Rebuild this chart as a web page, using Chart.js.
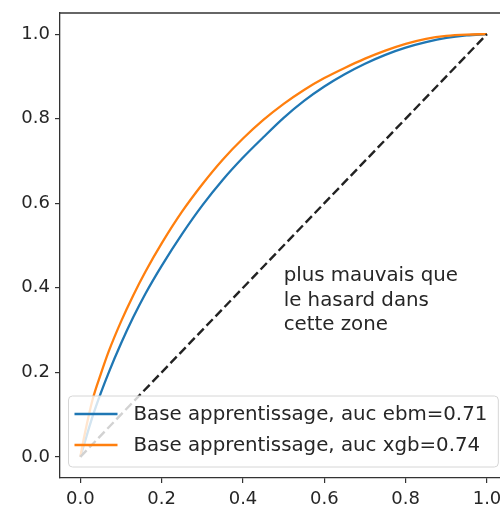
<!DOCTYPE html>
<html>
<head>
<meta charset="utf-8">
<script src="https://cdn.jsdelivr.net/npm/chart.js@4/dist/chart.umd.min.js"></script>
<style>
  html, body { margin: 0; padding: 0; background: #fff; overflow: hidden; }
  #wrap { width: 500px; height: 513px; }
</style>
</head>
<body>
<div id="wrap"><canvas id="roc" width="500" height="513"></canvas></div>
<script>
// taux de faux positifs (axe x)
const fpr = [0, 0.01, 0.03, 0.05, 0.07, 0.1, 0.13, 0.16, 0.2, 0.25, 0.3, 0.35, 0.4, 0.45, 0.5, 0.55, 0.6, 0.65, 0.7, 0.75, 0.8, 0.85, 0.9, 0.95, 1.0];
// taux de vrais positifs
const tprEbm = [0, 0.032, 0.095, 0.15, 0.2, 0.268, 0.33, 0.386, 0.452, 0.527, 0.595, 0.655, 0.708, 0.756, 0.802, 0.842, 0.876, 0.905, 0.93, 0.951, 0.968, 0.981, 0.991, 0.997, 1.0];
const tprXgb = [0, 0.05, 0.135, 0.195, 0.25, 0.32, 0.382, 0.438, 0.505, 0.58, 0.645, 0.703, 0.753, 0.797, 0.835, 0.868, 0.896, 0.92, 0.942, 0.961, 0.977, 0.989, 0.996, 0.999, 1.0];
const diagX = [0, 1];
const diagY = [0, 1];

const labels = ['Base apprentissage, auc ebm=0.71', 'Base apprentissage, auc xgb=0.74'];
const tickValues = [0, 0.2, 0.4, 0.6, 0.8, 1.0];
const noteLines = ['plus mauvais que', 'le hasard dans', 'cette zone'];

const toPoints = (xs, ys) => xs.map((x, i) => ({ x: x, y: ys[i] }));

const FONT = 'DejaVu Sans';
const TXT = '#262626';

// cadre, annotation et legende
const extras = {
    id: 'extras',
    afterDraw(chart) {
        const ctx = chart.ctx;
        const a = chart.chartArea;
        const xs = chart.scales.x, ys = chart.scales.y;
        ctx.save();

        // spine du haut
        ctx.strokeStyle = '#333';
        ctx.lineWidth = 1.3;
        ctx.beginPath();
        ctx.moveTo(a.left, a.top);
        ctx.lineTo(a.right, a.top);
        ctx.stroke();

        // texte
        ctx.fillStyle = TXT;
        ctx.font = '19.8px "' + FONT + '"';
        ctx.textAlign = 'left';
        ctx.textBaseline = 'alphabetic';
        const tx = xs.getPixelForValue(0.5);
        const ty = ys.getPixelForValue(0.3);
        for (let i = 0; i < noteLines.length; i++) {
            ctx.fillText(noteLines[i], tx, ty - (noteLines.length - 1 - i) * 24.5);
        }

        // legende (coin bas droit de la zone, qui depasse l'image a droite)
        const items = chart.data.datasets.filter(d => d.label);
        let tw = 0;
        items.forEach(d => { tw = Math.max(tw, ctx.measureText(d.label).width); });
        const pad = 6, handle = 43, gap = 16, rowH = 31;
        const w = pad + handle + gap + tw + 11;
        const h = 71;
        const bx = xs.getPixelForValue(1.05) - 9 - w;
        const by = a.bottom - 11 - h;
        ctx.beginPath();
        ctx.roundRect(bx, by, w, h, 4);
        ctx.fillStyle = 'rgba(255,255,255,0.8)';
        ctx.fill();
        ctx.strokeStyle = '#d6d6d6';
        ctx.lineWidth = 1;
        ctx.stroke();
        items.forEach((d, i) => {
            const cy = by + 18 + i * rowH;
            ctx.strokeStyle = d.borderColor;
            ctx.lineWidth = d.borderWidth;
            ctx.setLineDash([]);
            ctx.beginPath();
            ctx.moveTo(bx + pad, cy);
            ctx.lineTo(bx + pad + handle, cy);
            ctx.stroke();
            ctx.fillStyle = TXT;
            ctx.textBaseline = 'middle';
            ctx.fillText(d.label, bx + pad + handle + gap, cy + 1);
        });
        ctx.restore();
    }
};

new Chart(document.getElementById('roc'), {
    type: 'line',
    data: {
        datasets: [
            {
                label: labels[0],
                data: toPoints(fpr, tprEbm),
                borderColor: '#1f77b4',
                borderWidth: 2.3,
                pointRadius: 0,
                cubicInterpolationMode: 'monotone',
                fill: false,
                order: 2
            },
            {
                label: labels[1],
                data: toPoints(fpr, tprXgb),
                borderColor: '#ff7f0e',
                borderWidth: 2.3,
                pointRadius: 0,
                cubicInterpolationMode: 'monotone',
                fill: false,
                order: 1
            },
            {
                data: toPoints(diagX, diagY),
                borderColor: '#222',
                borderWidth: 2.4,
                borderDash: [9, 4],
                pointRadius: 0,
                fill: false,
                order: 0
            }
        ]
    },
    options: {
        responsive: false,
        animation: false,
        layout: { padding: { top: 13, left: 0, right: 0, bottom: 0 } },
        plugins: {
            legend: { display: false },
            tooltip: { enabled: false }
        },
        scales: {
            x: {
                type: 'linear',
                min: -0.05,
                max: 1.032,
                afterBuildTicks: s => { s.ticks = tickValues.map(v => ({ value: v })); },
                afterFit: s => { s.height = 35; s.paddingLeft = 0; s.paddingRight = 0; },
                grid: { drawOnChartArea: false, drawTicks: true, tickLength: 5, color: '#333', lineWidth: 1.2 },
                border: { display: true, color: '#333', width: 1.3 },
                ticks: {
                    autoSkip: false,
                    maxRotation: 0,
                    padding: 6,
                    color: TXT,
                    font: { family: FONT, size: 18 },
                    callback: v => v.toFixed(1)
                }
            },
            y: {
                min: -0.05,
                max: 1.05,
                afterBuildTicks: s => { s.ticks = tickValues.map(v => ({ value: v })); },
                afterFit: s => { s.width = 60; s.paddingTop = 0; s.paddingBottom = 0; },
                grid: { drawOnChartArea: false, drawTicks: true, tickLength: 5, color: '#333', lineWidth: 1.2 },
                border: { display: true, color: '#333', width: 1.3 },
                ticks: {
                    autoSkip: false,
                    padding: 5,
                    color: TXT,
                    font: { family: FONT, size: 18 },
                    callback: v => v.toFixed(1)
                }
            }
        }
    },
    plugins: [extras]
});
</script>
</body>
</html>
